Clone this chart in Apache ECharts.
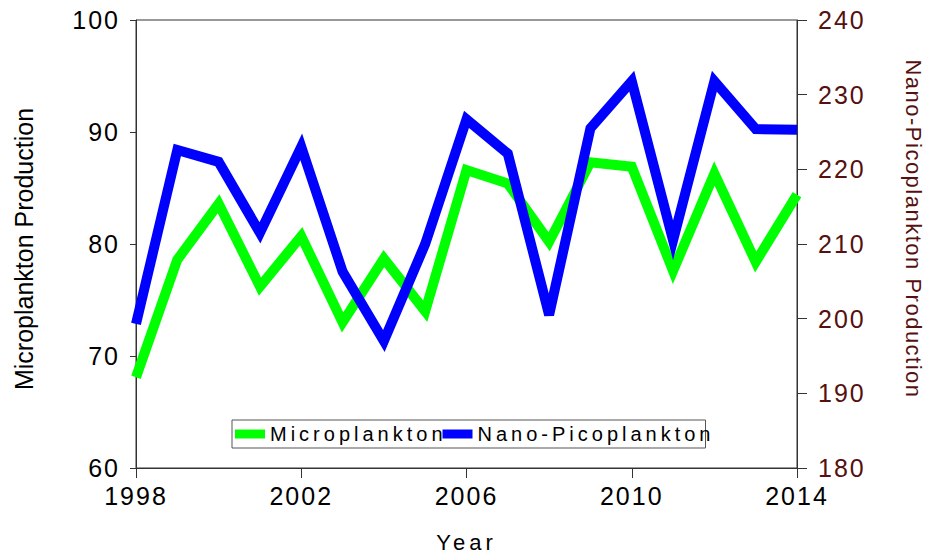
<!DOCTYPE html>
<html>
<head>
<meta charset="utf-8">
<script src="https://cdn.jsdelivr.net/npm/echarts@6/dist/echarts.min.js"></script>
<style>
  html, body { margin: 0; padding: 0; background: #fff; }
  #chart { width: 925px; height: 556px; }
  #chart text { letter-spacing: 2px; }
</style>
</head>
<body>
<div id="chart"></div>
<script>
// years on x
const years = ["1998", "1999", "2000", "2001", "2002", "2003", "2004", "2005", "2006",
  "2007", "2008", "2009", "2010", "2011", "2012", "2013", "2014"];

// left axis
const micro = [68.1, 78.6, 83.6, 76.2, 80.7, 73.0, 78.7, 74.0, 86.6,
  85.4, 80.2, 87.3, 86.9, 77.6, 86.3, 78.4, 84.4];

// right axis
const nanoPico = [199.3, 222.6, 221.0, 211.5, 223.0, 206.3, 197.0, 210.0, 226.7,
  222.1, 200.5, 225.5, 231.8, 210.5, 231.8, 225.4, 225.3];

const leftTicks = [60, 100, 10];
const rightTicks = [180, 240, 10];

const chart = echarts.init(document.getElementById("chart"), null, { renderer: "svg" });
const font = "Liberation Sans, Arial, sans-serif";
const rightColor = "#551010";

// the original plot software spreads its letters out
const spacing = {
  "Microplankton": "4px",
  "Nano-Picoplankton": "4px",
  "Year": "4px",
  "Microplankton Production": "0px",
  "Nano-Picoplankton Production": "1.5px"
};
const spreadText = () => {
  document.querySelectorAll("#chart text").forEach((t) => {
    const s = spacing[t.textContent.trim()];
    if (s) t.style.letterSpacing = s;
  });
};

chart.setOption({
  animation: false,
  textStyle: { fontFamily: font },
  grid: {
    left: 136, right: 128, top: 20, bottom: 88,
    outerBoundsMode: "none",
    show: true, borderColor: "#333", borderWidth: 1
  },
  legend: {
    left: 232, top: 420,
    itemWidth: 30, itemHeight: 9, itemGap: 48,
    padding: [4, 59, 4, 3],
    borderColor: "#555", borderWidth: 1,
    icon: "rect",
    textStyle: { fontSize: 20, color: "#000" },
    data: ["Microplankton", "Nano-Picoplankton"]
  },
  xAxis: {
    type: "category",
    data: years,
    boundaryGap: false,
    name: "Year",
    nameLocation: "middle",
    nameGap: 63,
    nameTextStyle: { fontSize: 22, color: "#000", verticalAlign: "top" },
    axisLine: { lineStyle: { color: "#333" } },
    axisTick: { interval: 3, length: 10, lineStyle: { color: "#333" } },
    axisLabel: { interval: 3, fontSize: 25, color: "#000", margin: 15 },
    splitLine: { show: false }
  },
  yAxis: [
    {
      type: "value",
      min: leftTicks[0], max: leftTicks[1], interval: leftTicks[2],
      position: "left",
      name: "Microplankton Production",
      nameLocation: "middle",
      nameRotate: 90,
      nameGap: 100,
      nameTextStyle: { fontSize: 25, color: "#000", padding: [0, 10, 0, 0] },
      axisLine: { show: true, lineStyle: { color: "#333" } },
      axisTick: { show: true, length: 6, lineStyle: { color: "#333" } },
      axisLabel: { fontSize: 25, color: "#000", margin: 16 },
      splitLine: { show: false }
    },
    {
      type: "value",
      min: rightTicks[0], max: rightTicks[1], interval: rightTicks[2],
      position: "right",
      name: "Nano-Picoplankton Production",
      nameLocation: "middle",
      nameRotate: -90,
      nameGap: 105,
      nameTextStyle: { fontSize: 22, color: rightColor, padding: [0, 30, 0, 0] },
      axisLine: { show: true, lineStyle: { color: "#333" } },
      axisTick: { show: true, length: 10, lineStyle: { color: "#333" } },
      axisLabel: { fontSize: 25, color: rightColor, margin: 21 },
      splitLine: { show: false }
    }
  ],
  series: [
    {
      name: "Microplankton",
      type: "line",
      yAxisIndex: 0,
      data: micro,
      showSymbol: false,
      color: "#00ff00",
      lineStyle: { width: 10, color: "#00ff00", join: "miter" },
      z: 2
    },
    {
      name: "Nano-Picoplankton",
      type: "line",
      yAxisIndex: 1,
      data: nanoPico,
      showSymbol: false,
      color: "#0000ff",
      lineStyle: { width: 10, color: "#0000ff", join: "miter" },
      z: 3
    }
  ]
});

chart.on("finished", spreadText);
spreadText();
</script>
</body>
</html>
